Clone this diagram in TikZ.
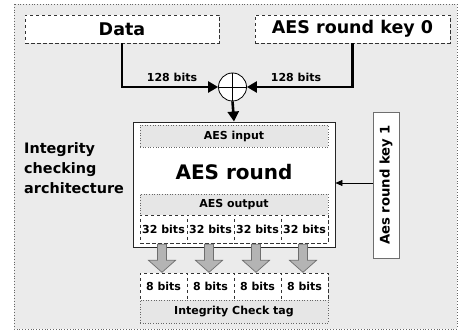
\documentclass[tikz,border=0pt]{standalone}
\usepackage{fontspec}
\setmainfont{DejaVu Sans}
\usetikzlibrary{arrows.meta,shapes.geometric}
\definecolor{bggray}{HTML}{EBEBEB}
\definecolor{cellgray}{HTML}{E6E6E6}
\definecolor{arrowgray}{HTML}{B4B4B4}
\definecolor{edgegray}{HTML}{6E6E6E}
\tikzset{
  topbox/.style={draw=black!80, dash pattern=on 3.5pt off 2.5pt, fill=white, line width=0.8pt, inner sep=0pt, font=\fontsize{17.5}{20}\selectfont\bfseries},
  graycell/.style={draw=black!60, dotted, line width=0.6pt, fill=cellgray, inner sep=0pt, font=\fontsize{11}{13}\selectfont\bfseries},
  whitecell/.style={draw=black!80, dash pattern=on 3.5pt off 2.5pt, line width=0.7pt, fill=white, inner sep=0pt, minimum width=47pt, font=\fontsize{11}{13}\selectfont\bfseries},
  bigarrow/.style={line width=2.6pt, -{Triangle[length=10pt,width=11pt]}},
  lbl/.style={font=\fontsize{11}{13}\selectfont\bfseries, inner sep=0pt},
  blockarrow/.style={fill=arrowgray, draw=edgegray, line width=0.7pt}
}
\begin{document}
\begin{tikzpicture}[x=1pt,y=-1pt]
\useasboundingbox (0,0) rectangle (459,331);
\fill[white] (0,0) rectangle (459,331);
\draw[draw=black!60, fill=bggray, dotted, line width=0.8pt] (14,4) rectangle (457,329);

% top boxes
\node[topbox, minimum width=194pt, minimum height=28pt] (data) at (122,29) {Data};
\node[topbox, minimum width=195pt, minimum height=28pt] (key0) at (352.5,29) {AES round key 0};

% xor
\node[draw=black, line width=0.8pt, fill=white, circle, minimum size=28pt, inner sep=0pt] (xor) at (232.5,87) {};
\draw[line width=0.8pt] (xor.north) -- (xor.south) (xor.west) -- (xor.east);

\draw[bigarrow] (data.south) |- (xor.west);
\draw[bigarrow] (key0.south) |- (xor.east);
\node[lbl] (l1) at (172,77) {128 bits};
\node[lbl] (l2) at (296,77) {128 bits};

% main box
\node[draw=black!85, line width=0.9pt, fill=white, minimum width=202pt, minimum height=125pt, inner sep=0pt] (main) at (234,184.5) {};
\draw[bigarrow] (xor.south) -- (main.north);

\node[graycell, minimum width=188pt, minimum height=22pt] (in) at (234,136) {AES input};
\node[font=\fontsize{20}{24}\selectfont\bfseries, inner sep=0pt] (round) at (234,172) {AES round};
\node[graycell, minimum width=188pt, minimum height=21pt] (out) at (234,204.5) {AES output};

\foreach \i/\x in {1/163.5,2/210.5,3/257.5,4/304.5}{
  \node[whitecell, minimum height=28pt] (c\i) at (\x,229) {32 bits};
  \node[whitecell, minimum height=27pt] (e\i) at (\x,286.5) {8 bits};
}
\node[graycell, minimum width=188pt, minimum height=23pt] (tag) at (234,311.5) {Integrity Check tag};

% block arrows
\foreach \i in {1,2,3,4}{
  \path (c\i.south) ++(-1.5,0) coordinate (s\i);
  \draw[blockarrow] ([shift={(-4.5,1)}]s\i) -- ([shift={(4.5,1)}]s\i) -- ([shift={(4.5,17)}]s\i) -- ([shift={(13.5,17)}]s\i) -- ([shift={(0,29)}]s\i) -- ([shift={(-13.5,17)}]s\i) -- ([shift={(-4.5,17)}]s\i) -- cycle;
}

% key 1
\node[draw=edgegray, line width=0.8pt, fill=white, minimum width=26pt, minimum height=146pt, inner sep=0pt] (key1) at (386,185) {};
\node[rotate=90, font=\fontsize{13.2}{15}\selectfont\bfseries, inner sep=0pt] (key1t) at (key1.center) {Aes round key 1};
\draw[line width=0.6pt, -{Triangle[length=7pt,width=6pt]}] ([yshift=2pt]key1.west) -- ([yshift=2pt]key1.west -| main.east);

% left label
\node[anchor=west, align=left, inner sep=0pt, font=\fontsize{14.4}{20}\selectfont\bfseries] (arch) at (24,168) {Integrity\\checking\\architecture};
\end{tikzpicture}
\end{document}
